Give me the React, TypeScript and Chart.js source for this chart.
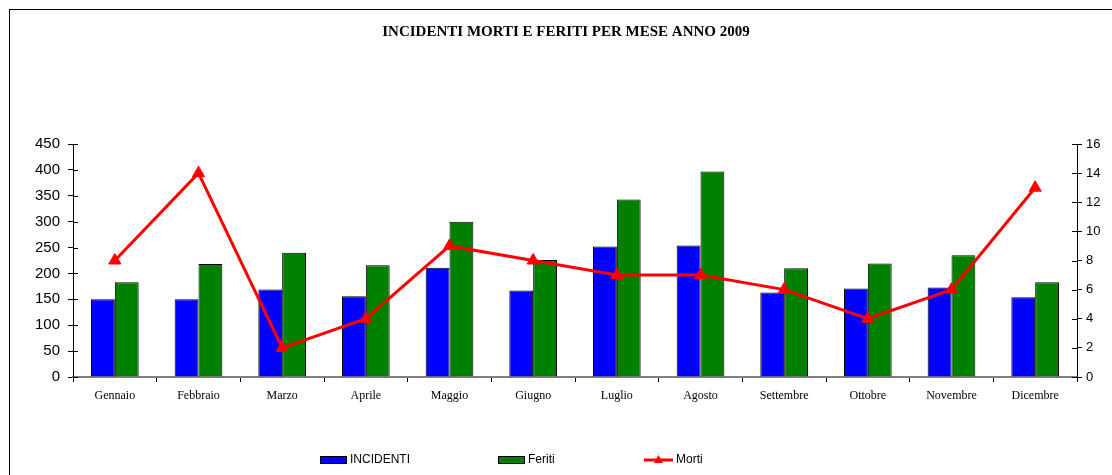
import React, { useEffect, useRef } from "react";
import { Chart, registerables } from "chart.js";

Chart.register(...registerables);

const months = ["Gennaio", "Febbraio", "Marzo", "Aprile", "Maggio", "Giugno", "Luglio", "Agosto", "Settembre", "Ottobre", "Novembre", "Dicembre"];
const incidenti = [150, 150, 169, 156, 211, 167, 252, 254, 163, 171, 173, 154];
const feriti = [183, 218, 240, 216, 300, 226, 343, 397, 210, 219, 235, 183];
const morti = [8, 14, 2, 4, 9, 8, 7, 7, 6, 4, 6, 13];
const titleText = "INCIDENTI MORTI E FERITI PER MESE ANNO 2009";

const W = 1112;
const H = 475;

const framePlugin = {
  id: "frame",
  beforeDraw(chart: any) {
    const ctx = chart.ctx;
    ctx.save();
    ctx.fillStyle = "#fff";
    ctx.fillRect(0, 0, W, H);
    ctx.strokeStyle = "#000";
    ctx.lineWidth = 1;
    ctx.strokeRect(9.5, 9.5, W + 20, H + 20);
    ctx.restore();
  },
  afterDatasetsDraw(chart: any) {
    // inner halves of crossing tick marks
    const ctx = chart.ctx;
    const area = chart.chartArea;
    ctx.save();
    ctx.strokeStyle = "#000";
    ctx.lineWidth = 1;
    ctx.beginPath();
    for (const id of ["y", "y1"]) {
      const s = chart.scales[id];
      const x = id === "y" ? area.left : area.right;
      const dir = id === "y" ? 1 : -1;
      s.ticks.forEach((_t: any, i: number) => {
        const py = Math.round(s.getPixelForTick(i)) + 0.5;
        ctx.moveTo(x, py);
        ctx.lineTo(x + dir * 5, py);
      });
    }
    ctx.stroke();
    ctx.restore();
  },
  afterDraw(chart: any) {
    const ctx = chart.ctx;
    ctx.save();
    ctx.fillStyle = "#000";
    ctx.font = "bold 15px 'Liberation Serif'";
    ctx.textAlign = "center";
    ctx.textBaseline = "middle";
    ctx.fillText(titleText, 566, 32);

    // legend
    const ly = 460;
    ctx.font = "12px 'Liberation Sans'";
    ctx.textAlign = "left";
    ctx.lineWidth = 1;
    ctx.fillStyle = "#0000FF";
    ctx.fillRect(320, 456, 27, 7);
    ctx.strokeStyle = "#000";
    ctx.strokeRect(320.5, 456.5, 26, 7);
    ctx.fillStyle = "#000";
    ctx.fillText("INCIDENTI", 350, ly);
    ctx.fillStyle = "#008000";
    ctx.fillRect(498, 456, 27, 7);
    ctx.strokeRect(498.5, 456.5, 26, 7);
    ctx.fillStyle = "#000";
    ctx.fillText("Feriti", 528, ly);
    ctx.strokeStyle = "#FF0000";
    ctx.lineWidth = 3;
    ctx.beginPath();
    ctx.moveTo(644, ly);
    ctx.lineTo(673, ly);
    ctx.stroke();
    ctx.fillStyle = "#FF0000";
    ctx.beginPath();
    ctx.moveTo(658.5, ly - 5);
    ctx.lineTo(663, ly + 3);
    ctx.lineTo(654, ly + 3);
    ctx.closePath();
    ctx.fill();
    ctx.fillStyle = "#000";
    ctx.fillText("Morti", 676, ly);
    ctx.restore();
  },
};

export default function App() {
  const ref = useRef<HTMLCanvasElement | null>(null);
  useEffect(() => {
    if (!ref.current) return;
    const chart = new Chart(ref.current, {
      type: "bar",
      data: {
        labels: months,
        datasets: [
          {
            type: "bar",
            label: "INCIDENTI",
            data: incidenti,
            backgroundColor: "#0000FF",
            borderColor: "#000",
            borderWidth: 1,
            yAxisID: "y",
            order: 2,
            categoryPercentage: 0.57,
            barPercentage: 1,
          } as any,
          {
            type: "bar",
            label: "Feriti",
            data: feriti,
            backgroundColor: "#008000",
            borderColor: "#000",
            borderWidth: 1,
            yAxisID: "y",
            order: 2,
            categoryPercentage: 0.57,
            barPercentage: 1,
          } as any,
          {
            type: "line",
            label: "Morti",
            data: morti,
            borderColor: "#FF0000",
            backgroundColor: "#FF0000",
            borderWidth: 3,
            pointStyle: "triangle",
            pointRadius: 7,
            pointBorderWidth: 1,
            yAxisID: "y1",
            order: 0,
            tension: 0,
          } as any,
        ],
      },
      options: {
        responsive: false,
        animation: false,
        layout: { padding: { top: 144, left: 0, right: 0, bottom: 0 } },
        plugins: {
          legend: { display: false },
          title: { display: false },
          tooltip: { enabled: false },
        },
        scales: {
          x: {
            type: "category",
            offset: true,
            grid: { offset: true, drawOnChartArea: false, tickLength: 5, color: "#000", lineWidth: 1 },
            border: { color: "#808080", width: 2 },
            ticks: { color: "#000", font: { family: "'Liberation Serif'", size: 12 }, padding: 7, maxRotation: 0, autoSkip: false },
            afterFit: (s: any) => { s.height = 98; },
          },
          y: {
            position: "left",
            min: 0,
            max: 450,
            ticks: { stepSize: 50, color: "#000", font: { family: "'Liberation Sans'", size: 15 }, padding: 8 },
            grid: { drawOnChartArea: false, tickLength: 5, color: "#000" },
            border: { color: "#000", width: 1 },
            afterFit: (s: any) => { s.width = 73; },
          },
          y1: {
            position: "right",
            min: 0,
            max: 16,
            ticks: { stepSize: 2, color: "#000", font: { family: "'Liberation Sans'", size: 13 }, padding: 4 },
            grid: { drawOnChartArea: false, tickLength: 5, color: "#000" },
            border: { color: "#000", width: 1 },
            afterFit: (s: any) => { s.width = 35; },
          },
        },
      } as any,
      plugins: [framePlugin],
    });
    return () => chart.destroy();
  }, []);
  return (
    <div style={{ position: "absolute", left: 0, top: 0, width: W, height: H }}>
      <canvas ref={ref} width={W} height={H} style={{ width: W, height: H, display: "block" }} />
    </div>
  );
}
